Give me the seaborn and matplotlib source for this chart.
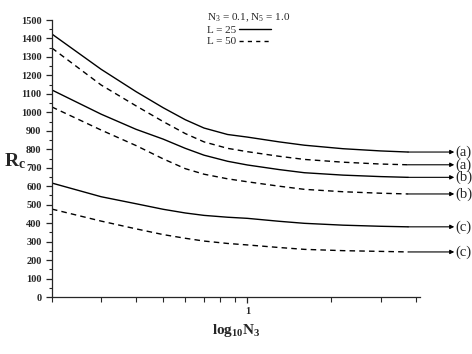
import numpy as np
import pandas as pd
import matplotlib
matplotlib.use("Agg")
import matplotlib.pyplot as plt
import seaborn as sns
from matplotlib.lines import Line2D
from matplotlib.ticker import MultipleLocator, LogLocator, NullFormatter, FixedFormatter, FixedLocator

# =============================
# DATOS
# =============================
n3 = [0.2, 0.3, 0.4, 0.5, 0.6, 0.7, 0.85, 1.0, 1.3, 1.6, 2.2, 3.0, 3.76]

rc_a_25 = [1424, 1233, 1112, 1025, 960, 915, 880, 866, 840, 822, 803, 791, 785]
rc_a_50 = [1348, 1148, 1035, 950, 885, 840, 805, 787, 762, 745, 730, 720, 716]
rc_b_25 = [1121, 990, 908, 855, 805, 768, 735, 715, 690, 673, 660, 652, 648]
rc_b_50 = [1029, 904, 820, 748, 695, 665, 640, 624, 600, 583, 570, 562, 558]
rc_c_25 = [617, 543, 505, 475, 455, 442, 432, 426, 410, 399, 389, 383, 380]
rc_c_50 = [476, 411, 369, 338, 318, 303, 290, 282, 268, 258, 251, 247, 244]

curves = [("(a)", "25", rc_a_25), ("(a)", "50", rc_a_50),
          ("(b)", "25", rc_b_25), ("(b)", "50", rc_b_50),
          ("(c)", "25", rc_c_25), ("(c)", "50", rc_c_50)]

rows = []
for case, L, vals in curves:
    for x, y in zip(n3, vals):
        rows.append({"N3": x, "Rc": y, "L": L, "curve": case + L})
df = pd.DataFrame(rows)

# =============================
# ESTILO
# =============================
sns.set_style("ticks")
plt.rcParams["font.family"] = ["Liberation Serif", "DejaVu Serif"]
plt.rcParams["mathtext.default"] = "regular"

fig = plt.figure(figsize=(4.72, 3.54), dpi=100)
ax = fig.add_axes([0.110, 0.161, 0.780, 0.7825])

sns.lineplot(data=df, x="N3", y="Rc", style="L", units="curve", estimator=None,
             dashes={"25": "", "50": (4, 3)}, color="black", linewidth=1.0,
             legend=False, ax=ax)

ax.set_xscale("log")
ax.set_xlim(0.2, 4.15)
ax.set_ylim(0, 1500)

# ticks
ax.yaxis.set_major_locator(MultipleLocator(100))
ax.yaxis.set_minor_locator(MultipleLocator(50))
ax.xaxis.set_major_locator(FixedLocator([1]))
ax.xaxis.set_major_formatter(FixedFormatter(["1"]))
ax.xaxis.set_minor_locator(LogLocator(base=10, subs=np.arange(2, 10)))
ax.xaxis.set_minor_formatter(NullFormatter())
ax.tick_params(which="major", direction="out", length=4, width=0.9, labelsize=7.5)
ax.tick_params(which="minor", direction="out", length=2.5, width=0.8)
ax.tick_params(axis="x", which="minor", length=3.5)
for lab in ax.get_xticklabels() + ax.get_yticklabels():
    lab.set_fontweight("bold")

for side in ["top", "right"]:
    ax.spines[side].set_visible(False)
for side in ["left", "bottom"]:
    ax.spines[side].set_linewidth(0.9)

ax.set_xlabel("log$_{10}$N$_3$", fontsize=11, fontweight="bold", labelpad=4)
ax.set_ylabel("R$_c$", fontsize=14, fontweight="bold", rotation=0)
ax.yaxis.set_label_coords(-0.10, 0.455)

# flechas y etiquetas al final de cada curva
for case, L, vals in curves:
    ax.annotate("", xy=(5.5, vals[-1]), xytext=(n3[-1], vals[-1]),
                arrowprops=dict(arrowstyle="-|>", color="black", lw=0.8,
                                mutation_scale=6, shrinkA=0, shrinkB=0),
                annotation_clip=False)
    ax.text(5.55, vals[-1], case, fontsize=10.5, va="center", ha="left", clip_on=False)

# leyenda
handles = [Line2D([], [], color="black", lw=1.0),
           Line2D([], [], color="black", lw=1.0, dashes=(3, 3))]
leg = ax.legend(handles, ["L = 25", "L = 50"], title="N$_3$ = 0.1, N$_5$ = 1.0",
                loc="upper left", bbox_to_anchor=(0.40, 1.06), frameon=False,
                markerfirst=False, fontsize=8, title_fontsize=8, alignment="left",
                handlelength=2.8, handletextpad=0.3, labelspacing=0.15,
                borderpad=0.2)

fig.savefig("out.png", dpi=100)
